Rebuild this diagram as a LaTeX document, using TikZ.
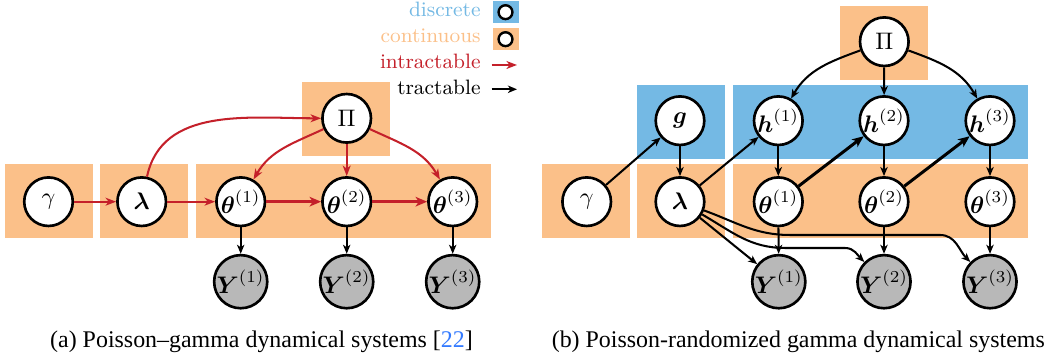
\documentclass[tikz,border=0pt]{standalone}
\usepackage{amsmath}
\usepackage{fontspec}
\newfontfamily\capfont{Liberation Serif}
\usetikzlibrary{arrows.meta}
\definecolor{obg}{RGB}{251,192,137}
\definecolor{bbg}{RGB}{116,185,228}
\definecolor{redar}{RGB}{196,32,42}
\definecolor{ygray}{RGB}{184,184,184}
\definecolor{citeblue}{RGB}{51,122,255}
\begin{document}
\begin{tikzpicture}[x=0.418pt,y=0.418pt,
  var/.style={circle,draw,line width=1.1pt,fill=white,minimum size=20.3pt,inner sep=0pt},
  obs/.style={var,fill=ygray},
  legc/.style={circle,draw,line width=1pt,fill=white,minimum size=5.8pt,inner sep=0pt},
  arr/.style={-{Stealth[length=3.8pt,width=3.1pt,inset=1.1pt]},line width=0.85pt},
  tarr/.style={-{Stealth[length=4.8pt,width=4pt,inset=1.3pt]},line width=1.25pt},
  rarr/.style={-{Stealth[length=4.4pt,width=3.3pt,inset=1.3pt]},line width=0.85pt,draw=redar},
  trarr/.style={tarr,draw=redar},
  leg/.style={anchor=base east,font=\fontsize{8.7pt}{10pt}\selectfont},
  capt/.style={anchor=base,font=\capfont\fontsize{10pt}{12pt}\selectfont}
]
\useasboundingbox (0,0) rectangle (1047,358);

% ---------- panel (a) boxes
\fill[obg] (5,120.3) rectangle (92.7,194);
\fill[obg] (100,120.3) rectangle (187.7,194);
\fill[obg] (196,120.3) rectangle (491,194);
\fill[obg] (302,202.3) rectangle (390,276.3);

% ---------- panel (b) boxes
\fill[obg] (542.3,120.3) rectangle (630,194);
\fill[obg] (637.3,120.3) rectangle (725,194);
\fill[obg] (733,120.3) rectangle (1027.7,194);
\fill[bbg] (637.3,199) rectangle (725,273);
\fill[bbg] (733,199) rectangle (1027.7,273);
\fill[obg] (840,278) rectangle (927.7,352);

% ---------- legend
\fill[bbg] (492.7,334.7) rectangle (518.5,357);
\node[legc] (lc1) at (505.5,345.8) {};
\fill[obg] (492.7,308) rectangle (518.5,330.3);
\node[legc] (lc2) at (505.5,318.8) {};
\node[leg,text=bbg] (ld) at (489,341.3) {discrete};
\node[leg,text=obg] (lcn) at (489,315) {continuous};
\node[leg,text=redar] (li) at (489,289) {intractable};
\node[leg] (lt) at (489,263) {tractable};
\coordinate (ia0) at (491.5,293);
\coordinate (ia1) at (517,293);
\coordinate (ta0) at (491.5,268.7);
\coordinate (ta1) at (517,268.7);
\draw[rarr] (ia0) -- (ia1);
\draw[arr] (ta0) -- (ta1);

% ---------- panel (a) nodes
\node[var] (ga) at (48.5,156.3) {$\gamma$};
\node[var] (la) at (141.7,156.3) {$\boldsymbol{\lambda}$};
\node[var] (tha1) at (240.7,156.3) {$\boldsymbol{\theta}^{(1)}$};
\node[var] (tha2) at (346.7,156.3) {$\boldsymbol{\theta}^{(2)}$};
\node[var] (tha3) at (452.7,156.3) {$\boldsymbol{\theta}^{(3)}$};
\node[obs] (ya1) at (240.7,76.3) {$\boldsymbol{Y}^{(1)}$};
\node[obs] (ya2) at (346.7,76.3) {$\boldsymbol{Y}^{(2)}$};
\node[obs] (ya3) at (452.7,76.3) {$\boldsymbol{Y}^{(3)}$};
\node[var] (pa) at (346.7,239.7) {$\Pi$};

% ---------- panel (a) edges
\draw[rarr] (ga) -- (la);
\draw[rarr] (la) -- (tha1);
\draw[trarr] (tha1) -- (tha2);
\draw[trarr] (tha2) -- (tha3);
\draw[rarr] (la) to[out=78,in=180] (pa);
\draw[rarr] (pa) to[out=205,in=60] (tha1);
\draw[rarr] (pa) -- (tha2);
\draw[rarr] (pa) to[out=-25,in=120] (tha3);
\draw[arr] (tha1) -- (ya1);
\draw[arr] (tha2) -- (ya2);
\draw[arr] (tha3) -- (ya3);

% ---------- panel (b) nodes
\node[var] (gb) at (586.7,156.3) {$\gamma$};
\node[var] (lb) at (680,156.3) {$\boldsymbol{\lambda}$};
\node[var] (thb1) at (778.3,156.3) {$\boldsymbol{\theta}^{(1)}$};
\node[var] (thb2) at (884,156.3) {$\boldsymbol{\theta}^{(2)}$};
\node[var] (thb3) at (990,156.3) {$\boldsymbol{\theta}^{(3)}$};
\node[var] (g) at (680,237.3) {$\boldsymbol{g}$};
\node[var] (h1) at (778.3,237.3) {$\boldsymbol{h}^{(1)}$};
\node[var] (h2) at (884,237.3) {$\boldsymbol{h}^{(2)}$};
\node[var] (h3) at (990,237.3) {$\boldsymbol{h}^{(3)}$};
\node[obs] (yb1) at (778.8,76.3) {$\boldsymbol{Y}^{(1)}$};
\node[obs] (yb2) at (884,76.3) {$\boldsymbol{Y}^{(2)}$};
\node[obs] (yb3) at (990,76.3) {$\boldsymbol{Y}^{(3)}$};
\node[var] (pb) at (884.3,316.3) {$\Pi$};

% ---------- panel (b) edges
\draw[arr] (pb) to[out=200,in=60] (h1);
\draw[arr] (pb) -- (h2);
\draw[arr] (pb) to[out=-20,in=120] (h3);
\draw[arr] (gb) -- (g);
\draw[arr] (g) -- (lb);
\draw[arr] (lb) -- (h1);
\draw[tarr] (thb1) -- (h2);
\draw[tarr] (thb2) -- (h3);
\draw[arr] (h1) -- (thb1);
\draw[arr] (h2) -- (thb2);
\draw[arr] (h3) -- (thb3);
\draw[arr] (thb1) -- (yb1);
\draw[arr] (thb2) -- (yb2);
\draw[arr] (thb3) -- (yb3);
\draw[arr] (lb) -- (yb1);
\coordinate (w2a) at (785,110);
\coordinate (w2b) at (845,110);
\coordinate (w3a) at (790,123);
\coordinate (w3b) at (940,123);
\draw[arr] (lb) to[out=-30,in=180] (w2a) -- (w2b) to[out=0,in=135] (yb2);
\draw[arr] (lb) to[out=-20,in=180] (w3a) -- (w3b) to[out=0,in=135] (yb3);

% ---------- captions
\node[capt] (capa) at (261.5,10) {(a) Poisson–gamma dynamical systems [\textcolor{citeblue}{22}]};
\node[capt] (capb) at (798.3,10) {(b) Poisson-randomized gamma dynamical systems};
\end{tikzpicture}
\end{document}
